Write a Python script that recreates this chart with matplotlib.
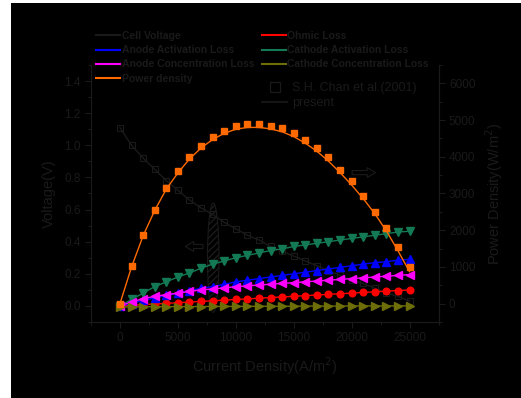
import numpy as np
import matplotlib.pyplot as plt
from matplotlib.lines import Line2D
from matplotlib.patches import Rectangle, Ellipse
from matplotlib.ticker import MultipleLocator

plt.rcParams['font.family'] = ['Liberation Sans', 'DejaVu Sans']

# current density (A/m^2)
current = np.arange(0, 26000, 1000)

# cell voltage, S.H. Chan et al. (2001) squares + present line
cell_voltage = [1.11, 1.00, 0.92, 0.85, 0.78, 0.72, 0.66, 0.61, 0.57, 0.52,
                0.48, 0.44, 0.41, 0.37, 0.34, 0.31, 0.28, 0.25, 0.22, 0.19,
                0.16, 0.14, 0.11, 0.08, 0.06, 0.03]
ohmic_loss = [0.0, 0.004, 0.008, 0.012, 0.016, 0.020, 0.024, 0.028, 0.032, 0.036,
              0.040, 0.044, 0.048, 0.052, 0.056, 0.060, 0.064, 0.068, 0.072, 0.076,
              0.080, 0.084, 0.088, 0.092, 0.096, 0.099]
anode_act = [0.0, 0.015, 0.035, 0.05, 0.065, 0.08, 0.095, 0.11, 0.12, 0.135,
             0.15, 0.16, 0.17, 0.18, 0.19, 0.20, 0.21, 0.22, 0.23, 0.24,
             0.25, 0.26, 0.27, 0.275, 0.285, 0.29]
cathode_act = [0.0, 0.04, 0.08, 0.12, 0.15, 0.18, 0.205, 0.235, 0.26, 0.28,
               0.30, 0.315, 0.33, 0.345, 0.355, 0.37, 0.38, 0.39, 0.40, 0.41,
               0.42, 0.43, 0.44, 0.45, 0.46, 0.465]
anode_conc = [0.0, 0.025, 0.045, 0.06, 0.07, 0.08, 0.09, 0.10, 0.105, 0.112,
              0.12, 0.125, 0.13, 0.135, 0.14, 0.145, 0.15, 0.155, 0.16, 0.165,
              0.17, 0.175, 0.18, 0.185, 0.19, 0.195]
cathode_conc = [-0.006, -0.006, -0.005, -0.005, -0.005, -0.004, -0.004, -0.004, -0.003, -0.003,
                -0.003, -0.003, -0.002, -0.002, -0.002, -0.002, -0.001, -0.001, -0.001, -0.001,
                0.0, 0.0, 0.0, 0.0, 0.0, 0.0]

# power density (W/m^2)
power_exp = [0, 1020, 1860, 2550, 3140, 3610, 4000, 4300, 4550, 4710,
             4840, 4890, 4890, 4850, 4780, 4640, 4460, 4250, 3990, 3640,
             3330, 2930, 2500, 2050, 1550, 1000]
power_model = [0, 1000, 1850, 2540, 3120, 3560, 3940, 4240, 4470, 4640,
               4750, 4800, 4800, 4760, 4680, 4550, 4370, 4150, 3880, 3570,
               3230, 2860, 2450, 1980, 1440, 870]

txt = '#1a1a1a'
c_orange = '#ff6a00'
c_blue = '#0000ff'
c_red = '#ff0000'
c_green = '#137a55'
c_mag = '#ff00ff'
c_olive = '#6e6e08'

fig = plt.figure(figsize=(5.21, 3.98), dpi=100, facecolor='white')
fig.add_artist(Rectangle((11 / 521, 0), 1, 1 - 3 / 398, transform=fig.transFigure,
                         facecolor='black', edgecolor='none', zorder=-1))

ax = fig.add_axes([0.1747, 0.191, 0.667, 0.6457])
ax.patch.set_alpha(0)
ax2 = ax.twinx()
ax2.patch.set_alpha(0)

ms = 4.8
ax.plot(current, cell_voltage, '-', color=txt, lw=1.0, marker='s', ms=ms,
        mfc='none', mec=txt, mew=0.8)
ax.plot(current, ohmic_loss, '-', color=c_red, lw=1.0, marker='o', ms=ms, mec=c_red)
ax.plot(current, anode_act, '-', color=c_blue, lw=1.0, marker='^', ms=ms + 0.6, mec=c_blue)
ax.plot(current, cathode_act, '-', color=c_green, lw=1.0, marker='v', ms=ms + 0.6, mec=c_green)
ax.plot(current, anode_conc, '-', color=c_mag, lw=1.0, marker='<', ms=ms + 0.6, mec=c_mag)
ax.plot(current, cathode_conc, '-', color=c_olive, lw=1.0, marker='>', ms=ms + 0.6, mec=c_olive)

ax2.plot(current, power_model, '-', color=c_orange, lw=1.0)
ax2.plot(current, power_exp, 's', color=c_orange, ms=ms, mec=c_orange)

ax.set_xlim(-2500, 27500)
ax.set_ylim(-0.1, 1.5)
ax2.set_ylim(-500, 6500)
ax.xaxis.set_major_locator(MultipleLocator(5000))
ax.xaxis.set_minor_locator(MultipleLocator(2500))
ax.yaxis.set_major_locator(MultipleLocator(0.2))
ax.yaxis.set_minor_locator(MultipleLocator(0.1))
ax2.yaxis.set_major_locator(MultipleLocator(1000))
ax2.yaxis.set_minor_locator(MultipleLocator(500))
ax.set_yticks(np.arange(0, 1.41, 0.2))
ax.set_yticklabels([f'{v:.1f}' for v in np.arange(0, 1.41, 0.2)])
ax2.set_yticks(np.arange(0, 6001, 1000))

for a in (ax, ax2):
    a.spines['top'].set_visible(False)
    for s in a.spines.values():
        s.set_color(txt)
    a.tick_params(which='both', colors=txt, labelcolor=txt, labelsize=8.5, direction='out')
    a.tick_params(which='major', length=4, width=0.8)
    a.tick_params(which='minor', length=2, width=0.8)

ax.set_xlabel('Current Density(A/m$^2$)', fontsize=10.5, color=txt, labelpad=8)
ax.set_ylabel('Voltage(V)', fontsize=10.5, color=txt, labelpad=6)
ax2.set_ylabel('Power Density(W/m$^2$)', fontsize=10.5, color=txt, labelpad=6)

# hatched ellipse and hollow arrows
ax.add_patch(Ellipse((8050, 0.30), 1000, 0.68, fill=False, hatch='/////',
                     edgecolor=txt, lw=0.8))
arrow = dict(arrowstyle='simple,head_length=0.6,head_width=0.7,tail_width=0.3',
             fc='none', ec=txt, lw=0.8)
ax.annotate('', xy=(5400, 0.37), xytext=(7400, 0.37), arrowprops=arrow)
ax.annotate('', xy=(22300, 0.83), xytext=(19800, 0.83), arrowprops=arrow)

# legends
handles = [Line2D([], [], color=txt, lw=1.5), Line2D([], [], color=c_blue, lw=1.5),
           Line2D([], [], color=c_mag, lw=1.5), Line2D([], [], color=c_orange, lw=1.5),
           Line2D([], [], color=c_red, lw=1.5), Line2D([], [], color=c_green, lw=1.5),
           Line2D([], [], color=c_olive, lw=1.5)]
labels = ['Cell Voltage', 'Anode Activation Loss', 'Anode Concentration Loss',
          'Power density', 'Ohmic Loss', 'Cathode Activation Loss',
          'Cathode Concentration Loss']
fig.legend(handles, labels, ncol=2, loc='upper left', bbox_to_anchor=(96 / 521, 1 - 31 / 398),
           frameon=False, prop={'size': 7.5, 'weight': 'bold'}, labelcolor=txt,
           handlelength=2.3, handletextpad=0.15, columnspacing=0.75, labelspacing=0.4,
           borderpad=0, borderaxespad=0)

h2 = [Line2D([], [], ls='none', marker='s', ms=7, mfc='none', mec=txt, mew=0.9),
      Line2D([], [], color=txt, lw=1.2)]
fig.legend(h2, ['S.H. Chan et al.(2001)', 'present'], loc='upper left',
           bbox_to_anchor=(262 / 521, 1 - 82 / 398), frameon=False,
           prop={'size': 9}, labelcolor=txt, handlelength=2.0, handletextpad=0.4,
           labelspacing=0.25, borderpad=0, borderaxespad=0)

fig.savefig('out.png', dpi=100, facecolor='white')
